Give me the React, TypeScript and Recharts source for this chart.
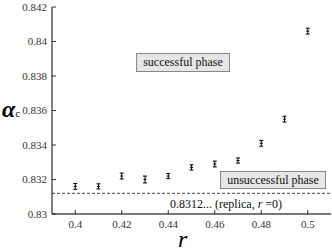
import React from "react";
import {
  ScatterChart,
  Scatter,
  XAxis,
  YAxis,
  ErrorBar,
  ReferenceLine
} from "recharts";

// r values (x) and critical alpha with error bars
const rValues = [0.4, 0.41, 0.42, 0.43, 0.44, 0.45, 0.46, 0.47, 0.48, 0.49, 0.5];
const alphaValues = [
  0.8316, 0.8316, 0.8322, 0.832, 0.8322, 0.8327, 0.8329, 0.8331, 0.8341, 0.8355, 0.8406
];
const alphaErrors = [
  0.00017, 0.00015, 0.00017, 0.0002, 0.00015, 0.00015, 0.00017, 0.00015, 0.00017, 0.00017, 0.00017
];

const xTicks = [0.4, 0.42, 0.44, 0.46, 0.48, 0.5];
const yTicks = [0.83, 0.832, 0.834, 0.836, 0.838, 0.84, 0.842];
const replicaValue = 0.8312;

const data = rValues.map((r, i) => ({ r, alpha: alphaValues[i], err: alphaErrors[i] }));

const serif = "Times New Roman, Liberation Serif, serif";
const tickStyle = { fontSize: 11, fill: "#333", fontFamily: serif };

// small horizontal dash at the point centre
const Dash = (props: any) => {
  const { cx, cy } = props;
  return <line x1={cx - 1.5} x2={cx + 1.5} y1={cy} y2={cy} stroke="#000" strokeWidth={1} />;
};

const boxStyle: React.CSSProperties = {
  position: "absolute",
  background: "#e6e6e6",
  border: "1px solid #888",
  boxSizing: "border-box",
  fontFamily: serif,
  fontSize: 12,
  color: "#111",
  textAlign: "center"
};

export default function App() {
  return (
    <div style={{ position: "absolute", left: 0, top: 0, width: 332, height: 252, background: "#fff" }}>
      <ScatterChart
        width={332}
        height={252}
        margin={{ top: 7, right: 1, bottom: 0, left: 0 }}
      >
        <XAxis
          xAxisId="b"
          type="number"
          dataKey="r"
          domain={[0.39, 0.51]}
          ticks={xTicks}
          height={38}
          tickSize={-4}
          tickMargin={10}
          axisLine={{ stroke: "#777", strokeWidth: 2 }}
          tickLine={{ stroke: "#333" }}
          tick={tickStyle}
        />
        <XAxis
          xAxisId="t"
          orientation="top"
          type="number"
          dataKey="r"
          domain={[0.39, 0.51]}
          ticks={xTicks}
          height={0}
          tickSize={-4}
          tick={false}
          axisLine={{ stroke: "#000" }}
          tickLine={{ stroke: "#333" }}
        />
        <YAxis
          yAxisId="l"
          type="number"
          dataKey="alpha"
          domain={[0.83, 0.842]}
          ticks={yTicks}
          width={52}
          tickSize={-4}
          tickMargin={9}
          axisLine={{ stroke: "#000" }}
          tickLine={{ stroke: "#333" }}
          tick={tickStyle}
        />
        <YAxis
          yAxisId="rt"
          orientation="right"
          type="number"
          dataKey="alpha"
          domain={[0.83, 0.842]}
          ticks={yTicks}
          width={0}
          tickSize={-4}
          tick={false}
          axisLine={{ stroke: "#000" }}
          tickLine={{ stroke: "#333" }}
        />
        <ReferenceLine
          xAxisId="b"
          yAxisId="l"
          y={replicaValue}
          stroke="#444"
          strokeDasharray="3 2"
        />
        <Scatter
          xAxisId="b"
          yAxisId="l"
          data={data}
          dataKey="alpha"
          shape={Dash}
          isAnimationActive={false}
        >
          <ErrorBar dataKey="err" direction="y" width={2} stroke="#000" strokeWidth={1} />
        </Scatter>
      </ScatterChart>

      <div style={{ ...boxStyle, left: 136, top: 53, width: 94, height: 19, lineHeight: "17px" }}>
        successful phase
      </div>
      <div style={{ ...boxStyle, left: 220, top: 171, width: 106, height: 18, lineHeight: "16px" }}>
        unsuccessful phase
      </div>
      <div
        style={{
          position: "absolute",
          left: 170,
          top: 196,
          fontFamily: serif,
          fontSize: 12,
          lineHeight: "16px",
          color: "#111",
          whiteSpace: "nowrap"
        }}
      >
        0.8312... (replica, <i>r</i> =0)
      </div>
      <div
        style={{
          position: "absolute",
          left: 2,
          top: 96,
          fontFamily: serif,
          color: "#000",
          whiteSpace: "nowrap",
          lineHeight: "26px"
        }}
      >
        <i style={{ fontSize: 24, fontWeight: "bold" }}>α</i>
        <span style={{ fontSize: 11 }}>c</span>
      </div>
      <div
        style={{
          position: "absolute",
          left: 178,
          top: 226,
          fontFamily: serif,
          fontSize: 24,
          fontStyle: "italic",
          lineHeight: "26px",
          color: "#000"
        }}
      >
        r
      </div>
    </div>
  );
}
